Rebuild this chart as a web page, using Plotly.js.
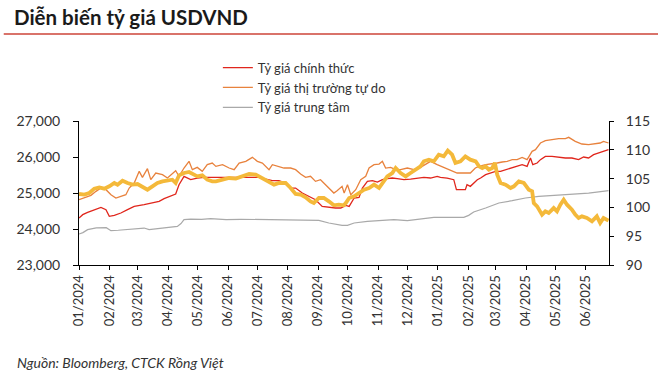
<!DOCTYPE html>
<html>
<head>
<meta charset="utf-8">
<script src="https://cdn.plot.ly/plotly-3.0.1.min.js"></script>
<style>html,body{margin:0;padding:0;background:#fff;}#chart{width:658px;height:378px;}</style>
</head>
<body>
<div id="chart"></div>
<script>
// Day offsets are counted from 2024-01-01
const baseDate = '2024-01-01';

// Tỷ giá chính thức (left axis, VND)
const officialDays = [0,3.8,8.8,15.6,22.4,27.5,30.9,36,42.7,49.5,56.3,66.4,73.2,81.7,86.8,92.9,98.6,102,107.1,113.9,120.6,127.4,135.9,143,153.1,163.3,173.5,183.6,190.4,197.2,203.9,210.7,215.8,220.9,227.7,234.4,241.2,248,254.8,261.5,267,272.1,275.5,280.6,285.6,289,294.1,299.2,304.3,309.4,314.4,319.5,324.6,331.4,338.1,344.9,351.7,358.5,365.3,368.6,375.4,382.2,384.9,390.7,394,395.7,399.1,406.2,409.6,414.7,419.7,424.8,429.9,435,441.8,446.8,451.9,457,460.4,462.8,467.2,470.6,475.6,482.4,489.2,496,502.7,509.5,514.6,519.7,524.8,529.8,534.9,540];
const officialRate = [24305,24398,24462,24536,24601,24536,24351,24379,24444,24536,24629,24675,24722,24768,24842,24907,24972,25231,25463,25370,25416,25435,25435,25435,25435,25453,25453,25435,25388,25342,25342,25277,25138,25138,24999,24907,24814,24629,24601,24583,24583,24657,24629,24861,24879,25138,25324,25342,25305,25370,25398,25416,25398,25370,25388,25416,25435,25416,25463,25435,25416,25370,25092,25092,25092,25231,25185,25370,25416,25509,25555,25601,25601,25648,25694,25740,25787,25740,25972,25787,25833,25926,26018,26018,25990,25972,25972,25926,26000,25972,26064,26111,26157,26203];

// Tỷ giá thị trường tự do (left axis, VND)
const freeDays = [0,5.5,12.2,17.3,22.4,27.5,32.6,37.6,42.7,47.8,51.2,56.3,61.4,64.7,69.8,73.2,78.3,85.1,90.2,95.2,98.6,102,107.1,112.2,115.6,120.6,125.7,130.8,135.9,139.6,146.4,153.1,158.2,163.3,170.1,176.8,181.9,187,193.8,197.2,203.9,209,215.8,220.9,226,231.1,236.1,241.2,246.3,251.4,256.5,259.9,263.2,268.3,270.4,273.8,277.2,282.2,287.3,292.4,295.8,300.9,306,309.4,312.7,317.8,322.9,328,334.8,341.5,348.3,353.4,358.5,365.3,372,378.8,385.6,392.4,399.1,404.2,407.9,414.7,421.4,426.5,431.6,436.7,441.8,446.8,451.9,457,462.1,465.5,470.6,475.6,482.4,489.2,496,499.4,506.1,512.9,519.7,526.5,531.5,534.9,540];
const freeRate = [24814,24861,24935,25046,25138,25092,24953,24861,24907,24953,25138,25277,25601,25435,25675,25370,25555,25509,25416,25555,25620,25463,25694,25879,25648,25712,25601,25787,25833,25740,25787,25694,25648,25833,25879,25990,25879,25833,25648,25787,25740,25694,25694,25648,25527,25435,25463,25324,25370,25231,25092,24999,25064,25185,24999,25231,24953,25092,25370,25463,25694,25787,25805,25879,25694,25712,25648,25648,25694,25648,25712,25787,25879,25787,25712,25648,25555,25555,25555,25694,25740,25787,25805,25833,25861,25879,25926,25926,25990,25926,26157,26203,26389,26453,26481,26509,26509,26546,26435,26361,26342,26361,26389,26435,26389];

// Tỷ giá trung tâm (left axis, VND)
const centralDays = [0,4,8.8,17.6,27.8,32.6,40,49.5,60,66.4,71.5,83.4,92,100.3,104,107.1,113.9,125,134.2,150,165,180,200,215,230,244.6,254.8,261,268.3,273.8,280.6,294.1,307.6,321.2,334.8,348.3,361.9,375.4,392.4,397.4,402.5,414.7,428.2,441.8,455.3,468.9,485.8,502.7,519.7,530,540];
const centralRate = [23860,23900,23981,24030,24037,23953,23965,23981,24000,24027,23981,24027,24040,24073,24150,24259,24277,24270,24286,24262,24270,24265,24262,24270,24258,24240,24166,24140,24101,24101,24166,24212,24231,24259,24231,24286,24324,24324,24324,24379,24472,24583,24722,24786,24861,24907,24935,24972,24999,25030,25064];

// Yellow series (right axis index)
const indexDays = [0,5.5,10.5,15.6,20.7,25.8,30.9,36,39.3,44.4,49.5,54.6,59.7,64.7,69.8,74.9,80,85.1,90.2,95.2,98.6,102,107.1,112.2,117.3,120.6,125.7,130.8,135.9,139.6,146.4,153.1,159.9,166.7,173.5,180.2,187,193.8,198.9,204,210.7,215.8,220.9,226,231.1,236.1,239.5,244.6,249.7,254.8,259.9,264.9,270,272.1,275.5,280.6,285.6,290.7,295.8,300.9,306,309.4,314.4,319.5,322.9,328,333.1,338.1,343.2,348.3,351.7,356.8,361.9,366.9,372,376.1,380.5,383.9,389,394,399.1,404.5,407.9,411.3,414.7,418,421.4,424.1,426.5,429.9,435,440.1,443.5,448.5,453.6,458.7,462.1,463.8,467.2,472.2,475.6,479,484.1,487.5,490.9,494.3,497.7,502.7,506.1,509.5,512.9,518,523.1,528.1,531.5,534.9,540];
const indexValue = [102.33,102.21,102.50,103.25,103.48,103.25,103.66,104.24,103.95,104.64,104.24,103.95,104.06,103.66,103.08,103.66,104.24,104.52,104.64,104.81,104.24,105.57,105.97,106.15,105.68,105.39,105.57,104.81,104.52,104.52,104.81,105.10,104.99,105.39,105.80,105.68,105.10,104.52,103.95,104.24,104.24,103.37,102.33,102.21,101.75,101.05,100.76,101.63,101.63,101.05,100.36,100.47,100.36,100.76,101.63,101.92,102.50,103.08,103.37,103.95,103.37,104.24,105.39,105.97,106.84,105.97,105.39,105.97,106.55,107.13,108.00,108.29,108.00,109.15,108.86,109.85,109.15,107.71,108.00,108.86,108.29,108.00,107.13,106.84,107.13,106.55,106.84,107.71,105.68,104.24,103.95,103.37,103.66,104.52,104.24,103.08,102.79,100.76,100.18,98.74,99.32,99.03,99.89,99.32,100.47,101.34,100.47,99.61,98.74,98.16,98.45,98.16,97.58,98.45,97.29,98.16,97.70];

const seriesNames = ['Tỷ giá chính thức', 'Tỷ giá thị trường tự do', 'Tỷ giá trung tâm'];
const monthTickFormat = '%m/%Y';
const axisEndDay = 540.5;

const DAY_MS = 86400000;
const t0 = Date.UTC(2024, 0, 1);
const toDates = days => days.map(d => new Date(t0 + d * DAY_MS).toISOString().replace('T', ' ').slice(0, 19));

const traces = [
  {x: toDates(centralDays), y: centralRate, name: seriesNames[2], type: 'scatter', mode: 'lines',
   line: {color: '#a9a9a9', width: 1.2}, legendrank: 3},
  {x: toDates(freeDays), y: freeRate, name: seriesNames[1], type: 'scatter', mode: 'lines',
   line: {color: '#e8823d', width: 1.3}, legendrank: 2},
  {x: toDates(officialDays), y: officialRate, name: seriesNames[0], type: 'scatter', mode: 'lines',
   line: {color: '#e0261c', width: 1.3}, legendrank: 1},
  {x: toDates(indexDays), y: indexValue, name: 'Index', type: 'scatter', mode: 'lines', yaxis: 'y2',
   line: {color: '#f4b93a', width: 3.8}, showlegend: false}
];

const FONT = 'Lato, "Open Sans", sans-serif';
const layout = {
  width: 658, height: 378,
  margin: {l: 79, r: 49, t: 121, b: 113, pad: 0},
  paper_bgcolor: '#ffffff', plot_bgcolor: '#ffffff',
  font: {family: FONT, size: 13, color: '#333333'},
  title: {text: '<b>Diễn biến tỷ giá USDVND</b>', x: 14/658, xanchor: 'left', xref: 'container',
          y: 1 - 18/378, yanchor: 'middle', yref: 'container',
          font: {family: FONT, size: 20.5, color: '#1a1a1a'}},
  showlegend: true,
  legend: {x: 0.262, y: 1.475, xanchor: 'left', yanchor: 'top', bgcolor: 'rgba(0,0,0,0)',
           font: {family: FONT, size: 13, color: '#333333'}, traceorder: 'normal', itemwidth: 30},
  xaxis: {type: 'date', range: [toDates([0])[0], toDates([axisEndDay])[0]],
          tick0: baseDate, dtick: 'M1', tickformat: monthTickFormat, tickangle: -90,
          ticks: 'outside', ticklen: 4, tickcolor: '#000', tickwidth: 1,
          showline: true, linecolor: '#000', linewidth: 1, showgrid: false, zeroline: false,
          ticklabelstandoff: 0, tickfont: {size: 13, color: '#333'}},
  yaxis: {range: [23000, 27000], dtick: 1000, tickformat: ',', ticks: 'outside', ticklen: 5,
          tickcolor: '#000', showline: true, linecolor: '#000', linewidth: 1, showgrid: false,
          zeroline: false, ticklabelstandoff: 10, tickfont: {size: 14, color: '#333'}},
  yaxis2: {overlaying: 'y', side: 'right', range: [90, 115], dtick: 5, ticks: 'outside', ticklen: 4,
           tickcolor: '#000', showline: true, linecolor: '#000', linewidth: 1, showgrid: false,
           zeroline: false, ticklabelstandoff: 9, tickfont: {size: 14, color: '#333'}},
  shapes: [{type: 'line', xref: 'paper', yref: 'paper', x0: -0.142, x1: 1.1, y0: 1 + (121 - 34)/144, y1: 1 + (121 - 34)/144,
            line: {color: '#d9736a', width: 2}}],
  annotations: [{text: '<i>Nguồn: Bloomberg, CTCK Rồng Việt</i>', xref: 'paper', yref: 'paper',
                 x: (15 - 79)/530, y: (265 - 362)/144, xanchor: 'left', yanchor: 'middle', showarrow: false,
                 font: {family: FONT, size: 14, color: '#333'}}]
};

Plotly.newPlot('chart', traces, layout, {displayModeBar: false, staticPlot: true});
</script>
</body>
</html>
